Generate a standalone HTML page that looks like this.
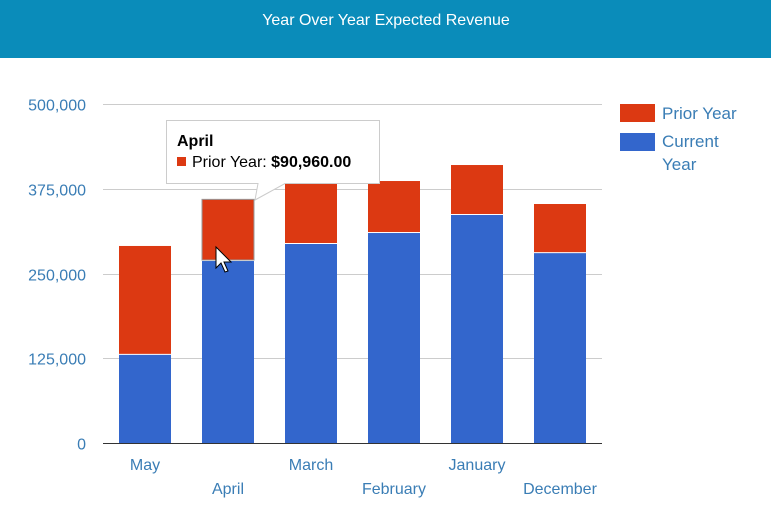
<!DOCTYPE html>
<html><head><meta charset="utf-8"><style>
body{margin:0;width:771px;height:522px;background:#fff;overflow:hidden;font-family:"Liberation Sans",Arial,sans-serif}
</style></head><body>
<svg width="771" height="522" style="position:absolute;left:0;top:0">
<rect x="0" y="0" width="771" height="58" fill="#0a8cba"/>
<text x="386" y="25" text-anchor="middle" fill="#fff" font-size="16">Year Over Year Expected Revenue</text>
<g id="grid"></g><g id="bars"></g><g id="labels"></g>
<g>
<rect x="620" y="104" width="35" height="18" fill="#dc3912"/>
<text x="662" y="119" fill="#3a7db5" font-size="17">Prior Year</text>
<rect x="620" y="133" width="35" height="18" fill="#3366cc"/>
<text x="662" y="147" fill="#3a7db5" font-size="17">Current</text>
<text x="662" y="170" fill="#3a7db5" font-size="17">Year</text>
</g>
<g>
<path d="M166.5,120.5 H379.5 V183.5 H285 L255,200 L258,183.5 H166.5 Z" fill="#fff" stroke="#ccc" stroke-width="1"/>
<text x="177" y="146" font-size="16" font-weight="bold" fill="#000">April</text>
<rect x="177" y="157" width="9" height="9" fill="#dc3912"/>
<text x="192" y="167" font-size="16" fill="#000">Prior Year: <tspan font-weight="bold">$90,960.00</tspan></text>
</g>
<path d="M216,247 V268 L221,263 L225,272 L228,271 L224,262 L231,262 Z" fill="#fff" stroke="#000" stroke-width="1"/>
</svg>
<script>
const categories=["May","April","March","February","January","December"];
const currentYear=[130000,268400,293500,309700,336300,280000];
const priorYear=[160600,90960,88500,76700,73700,72500];
const yTicks=[0,125000,250000,375000,500000];
const yTickLabels=["0","125,000","250,000","375,000","500,000"];
const NS="http://www.w3.org/2000/svg";
const y0=443,yTop=104,yMax=500000;
const yScale=v=>y0-(v/yMax)*(y0-yTop);
const xCenter=i=>145+i*83;
const barW=52;
function mk(tag,attrs,parent){const e=document.createElementNS(NS,tag);for(const k in attrs)e.setAttribute(k,attrs[k]);document.getElementById(parent).appendChild(e);return e;}
yTicks.forEach((t,i)=>{
  const y=Math.round(yScale(t))+0.5;
  const l=mk("line",{x1:103,x2:602,y1:y,y2:y,stroke:i===0?"#333":"#ccc","stroke-width":1},"grid");
  
  
  const tx=mk("text",{x:86,y:y+6,"text-anchor":"end",fill:"#3a7db5","font-size":16},"labels");
  tx.textContent=yTickLabels[i];
  
  
});
categories.forEach((c,i)=>{
  const x=xCenter(i)-barW/2;
  const yc=yScale(currentYear[i]),yp=yScale(currentYear[i]+priorYear[i]);
  const b=mk("rect",{x:x,y:yc,width:barW,height:y0-yc,fill:"#3366cc"},"bars");
  
  
  const r=mk("rect",{x:x,y:yp,width:barW,height:yc-yp-1,fill:"#dc3912"},"bars");
  if(i===1){r.setAttribute("stroke","#999");r.setAttribute("stroke-width","1");}
  
  
  const t=mk("text",{x:xCenter(i),y:i%2===0?470:494,"text-anchor":"middle",fill:"#3a7db5","font-size":16},"labels");
  t.textContent=c;
  
  
});
</script>
</body></html>
